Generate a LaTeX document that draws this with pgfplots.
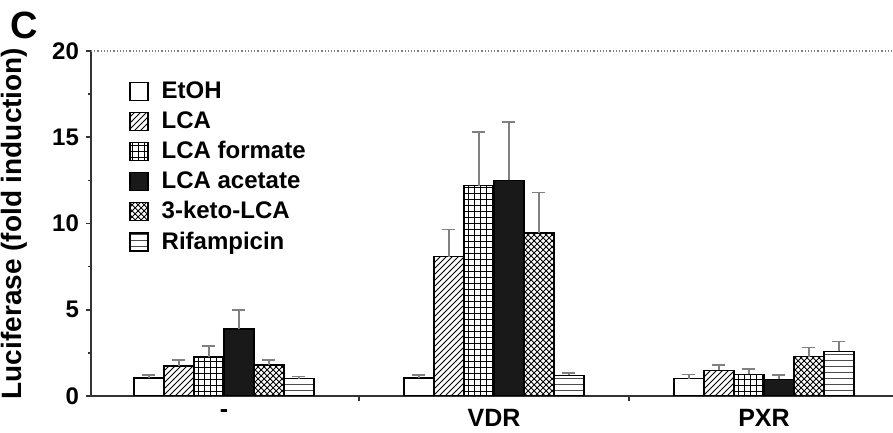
\documentclass[border=0pt]{standalone}
\usepackage{pgfplots}
\pgfplotsset{compat=1.18}
\usepackage{fontspec}
\setmainfont{Liberation Sans}
\usetikzlibrary{patterns}

\pgfplotsset{
  myerr/.style={error bars/.cd, y dir=plus, y explicit,
    error bar style={gray, line width=0.8pt},
    error mark options={gray, rotate=90, mark size=3.25pt, line width=0.8pt}},
}

\begin{document}
\begin{tikzpicture}
\begin{axis}[
  scale only axis, width=401pt, height=172.5pt,
  xmin=-0.4926, xmax=2.478, ymin=0, ymax=20,
  ybar=0pt, bar width=15pt,
  axis lines=left,
  axis line style={-, line width=1pt, black!80},
  xtick={0.5,1.5}, xticklabels={},
  extra x ticks={0,1,2}, extra x tick labels={-,VDR,PXR},
  extra x tick style={major tick length=0pt, xticklabel style={yshift=-3pt}},
  ytick={0,5,10,15,20}, minor y tick num=1,
  tick align=outside,
  major tick length=2.5pt, minor tick length=1.5pt,
  tick style={black!80, line width=0.8pt},
  /pgf/number format/assume math mode=true,
  yticklabel style={font=\fontsize{12}{14}\selectfont\bfseries},
  xticklabel style={font=\fontsize{12.5}{14}\selectfont\bfseries},
  ylabel={Luciferase (fold induction)},
  ylabel style={font=\fontsize{14}{16}\selectfont\bfseries, at={(axis description cs:-0.096,0.5)}, anchor=center},
  legend cell align=left,
  legend style={draw=none, fill=none, at={(axis description cs:0.04,0.935)}, anchor=north west,
    font=\fontsize{12}{13}\selectfont\bfseries, row sep=1pt},
  legend image code/.code={\draw[#1, draw=black, line width=0.6pt] (0pt,-4.5pt) rectangle (9pt,4.5pt); \path (13.5pt,0pt);},
]
\draw[gray, densely dotted, line width=0.6pt] (rel axis cs:0,1) -- (rel axis cs:1,1);
\addplot[draw=black, line width=0.6pt, fill=white, myerr] coordinates {(0,1.04) +- (0,0.18) (1,1.04) +- (0,0.18) (2,1.0) +- (0,0.25)};
\addlegendentry{EtOH}
\addplot[draw=black, line width=0.6pt, pattern=north east lines, myerr] coordinates {(0,1.74) +- (0,0.36) (1,8.07) +- (0,1.58) (2,1.5) +- (0,0.3)};
\addlegendentry{LCA}
\addplot[draw=black, line width=0.6pt, pattern=grid, myerr] coordinates {(0,2.26) +- (0,0.64) (1,12.2) +- (0,3.1) (2,1.25) +- (0,0.3)};
\addlegendentry{LCA formate}
\addplot[draw=black, line width=0.6pt, fill=black!90, myerr] coordinates {(0,3.88) +- (0,1.12) (1,12.5) +- (0,3.4) (2,0.97) +- (0,0.23)};
\addlegendentry{LCA acetate}
\addplot[draw=black, line width=0.6pt, pattern=crosshatch, myerr] coordinates {(0,1.8) +- (0,0.3) (1,9.45) +- (0,2.35) (2,2.28) +- (0,0.52)};
\addlegendentry{3-keto-LCA}
\addplot[draw=black, line width=0.6pt, pattern=horizontal lines, pattern color=black!70, myerr] coordinates {(0,1.0) +- (0,0.12) (1,1.2) +- (0,0.15) (2,2.6) +- (0,0.55)};
\addlegendentry{Rifampicin}
\end{axis}
\node[font=\fontsize{19}{21}\selectfont\bfseries] at ([xshift=-33.25pt,yshift=12.75pt]current axis.north west) {C};
\pgfresetboundingbox
\path[use as bounding box] ([xshift=-45.5pt,yshift=-18.5pt]current axis.south west) rectangle ([yshift=25.5pt]current axis.north east);
\end{tikzpicture}
\end{document}
